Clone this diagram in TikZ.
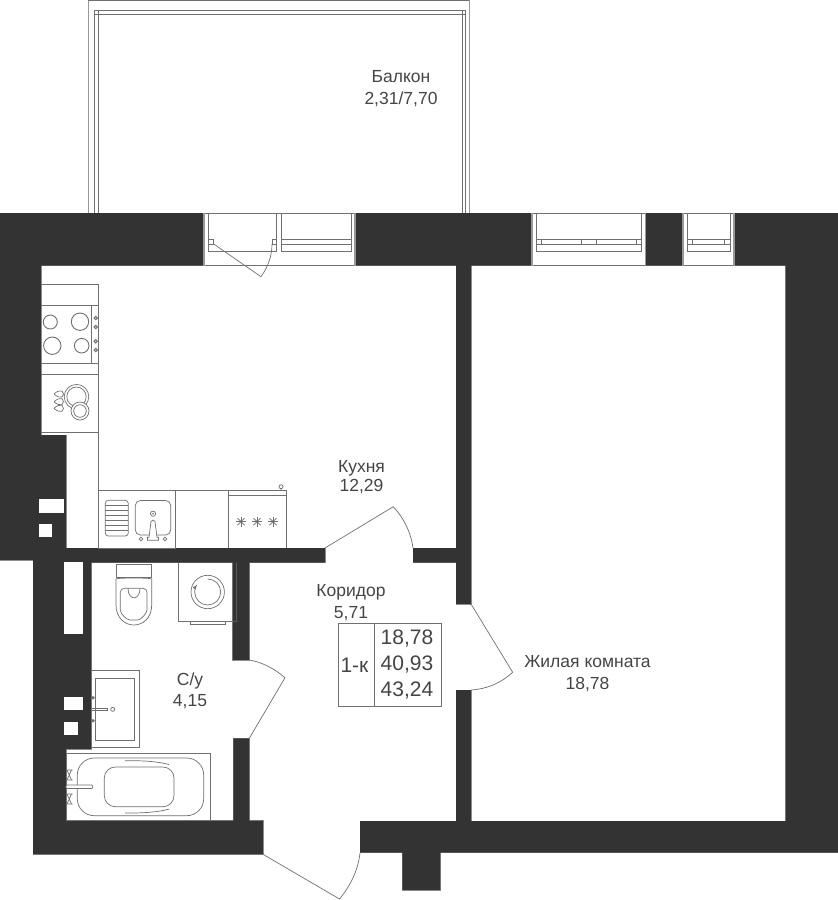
\documentclass[tikz,border=0pt]{standalone}
\usepackage{fontspec}
\setmainfont{Liberation Sans}

\definecolor{wallfill}{HTML}{333333}
\definecolor{wallside}{HTML}{999999}
\definecolor{planline}{HTML}{707070}
\definecolor{plantext}{HTML}{454545}

\tikzset{
    fixture/.style={draw=planline, line width=0.7pt},
    heavy/.style={draw=planline, line width=0.9pt},
    light/.style={draw=wallside, line width=1.1pt},
    duct/.style={fill=white},
    roomtag/.style={anchor=base, text=plantext, font=\fontsize{17.5}{20}\selectfont, inner sep=0pt},
    areatag/.style={anchor=base, text=plantext, font=\fontsize{21}{24}\selectfont, inner sep=0pt}
}

\newcommand{\wallshapes}{
    (0, 213) rectangle (204, 265.5)
    (355, 213) rectangle (532, 265.5)
    (645.5, 213) rectangle (683, 265.5)
    (734, 213) rectangle (838, 265.5)
    (0, 265) rectangle (41, 436)
    (0, 435) rectangle (66, 548.5)
    (0, 548) rectangle (33, 560)
    (33, 548) rectangle (325, 562.5)
    (413, 548) rectangle (456, 562.5)
    (33, 560) rectangle (91.3, 749)
    (33, 748) rectangle (66, 821)
    (33, 820.7) rectangle (263, 854.3)
    (232.5, 562) rectangle (249.3, 660)
    (233.3, 738.3) rectangle (249.3, 821)
    (360, 821) rectangle (838, 852.5)
    (402.3, 852) rectangle (440.3, 890)
    (456, 265) rectangle (471, 604)
    (456, 690) rectangle (471, 821)
    (785.5, 265) rectangle (838, 821)
}

\newcommand{\glazing}[2]{%
    \draw[heavy] (#1, 213) -- (#1, 251) -- (#2, 251) -- (#2, 213);
    \draw[heavy] (#1, 239.5) -- (#2, 239.5) (#1, 244) -- (#2, 244);
}

\newcommand{\opening}[2]{%
    \draw[fixture] (#1, 213) -- (#2, 213) (#1, 265.5) -- (#2, 265.5);
    \draw[light] (#1, 213) -- (#1, 265.5) (#2, 213) -- (#2, 265.5);
}

\begin{document}
\begin{tikzpicture}[x=1pt, y=-1pt]
    \useasboundingbox (0, 0) rectangle (838, 900);
    \fill[white] (0, 0) rectangle (838, 900);

    \draw[light] (88.3, 213) -- (88.3, 0) -- (469.3, 0) -- (469.3, 213);
    \draw[planline, line width=1.4pt] (88.3, 0.5) -- (469.3, 0.5);
    \draw[fixture] (94, 213) -- (94, 10) -- (465.7, 10) -- (465.7, 213);
    \draw[fixture] (98, 213) -- (98, 10) (462, 213) -- (462, 10);
    \draw[fixture] (94, 14.5) -- (465.7, 14.5);

    \draw[wallside, line width=1pt] \wallshapes;
    \fill[wallfill] \wallshapes;
    \foreach \xa/\ya/\xb/\yb in
        {39.3/499.3/63.7/512.5, 39.3/524.3/52/537.3,
         64.3/562/82.7/634, 64.3/696.7/83/709.5, 64.3/721.7/77.5/734.7}{
        \fill[duct] (\xa, \ya) rectangle (\xb, \yb);
    }

    \foreach \xa/\xb in {204/355, 532/645.5, 683/734}{
        \opening{\xa}{\xb}
    }
    \glazing{208.3}{276.7}
    \glazing{281.3}{351}
    \glazing{536.7}{641.5}
    \glazing{687.3}{730}
    \fill[white] (213.5, 238) rectangle (271.5, 246);
    \draw[heavy] (208.3, 239.7) rectangle (213, 244) (272, 239.7) rectangle (276.7, 244);
    \draw[fixture] (213, 243.5) -- (261, 276.7)
        .. controls (268, 267) and (272, 256) .. (272, 244);
    \foreach \xa in {541.3, 581.7, 596, 636, 692, 724.7}{
        \draw[heavy] (\xa, 239.5) -- (\xa, 244);
    }

    \draw[fixture] (325, 548) -- (393.3, 506.7)
        .. controls (403, 517) and (411, 532) .. (413, 548);
    \draw[fixture] (471, 604) -- (512.7, 672.3)
        .. controls (501, 683) and (487, 689) .. (471, 690);
    \draw[fixture] (249.3, 660) .. controls (262, 662) and (275, 669) .. (285, 677.7)
        -- (249.3, 738.3);
    \draw[fixture] (263, 854.3) -- (339.5, 899)
        .. controls (351, 885) and (358, 870) .. (360, 853);

    \draw[fixture] (41, 284.5) -- (98.7, 284.5) -- (98.7, 548);
    \foreach \yy in {305.7, 363.3, 374, 432.3}{
        \draw[fixture] (41, \yy) -- (98.7, \yy);
    }
    \draw[fixture] (91.3, 305.7) -- (91.3, 363.3);
    \foreach \xx/\yy/\rr in {50.3/322/7, 80/321.7/8.7, 52.3/345.7/8.7, 81.7/345.7/7.3}{
        \draw[heavy] (\xx, \yy) circle (\rr pt);
    }
    \foreach \yy in {318, 327, 341.3, 350}{
        \draw[heavy, fill=planline!40] (95.7, \yy) circle (1.8pt);
    }

    \draw[fixture] (76.5, 396.7) circle (12.3pt) (76.5, 396.7) circle (9.7pt);
    \fill[white] (80, 411) circle (9pt);
    \draw[fixture] (80, 411) circle (9pt) (80, 411) circle (6.3pt);
    \foreach \yy in {394, 401.7, 408.3}{
        \draw[fixture] (54, \yy) .. controls (57, \yy - 3) and (60, \yy - 3.5) .. (62, \yy - 3)
            .. controls (64, \yy - 1) and (64, \yy + 1) .. (62, \yy + 3)
            .. controls (60, \yy + 3.5) and (57, \yy + 3) .. (54, \yy);
    }

    \draw[fixture] (98.7, 490.3) rectangle (175.7, 548);
    \draw[fixture] (175.7, 490.3) -- (286.7, 490.3) -- (286.7, 548);
    \draw[fixture] (228.7, 490.3) -- (228.7, 548);
    \draw[fixture] (228.7, 495.3) -- (286.7, 495.3);
    \draw[fixture] (281, 486.7) circle (2pt) (281, 488.7) -- (281, 490.3);
    \foreach \xx in {241, 257, 273}{
        \foreach \aa in {0, 45, 90, 135}{
            \draw[fixture] (\xx, 521.7) ++(\aa:5) -- ++(\aa + 180:10);
        }
        \fill[planline] (\xx, 521.7) circle (1.5pt);
    }
    \draw[fixture, rounded corners=3pt] (105.3, 500.3) rectangle (128.3, 536);
    \foreach \yy in {505, 510, 515, 520, 525, 530}{
        \draw[fixture] (105.3, \yy) -- (128.3, \yy);
    }
    \draw[fixture, rounded corners=5pt] (135.3, 500.5) rectangle (170.7, 535);
    \draw[fixture] (153, 513.7) circle (2.6pt);
    \fill[planline] (153, 513.7) circle (0.9pt);
    \draw[fixture, fill=white] (147.5, 540.3) -- (147.5, 537.3) -- (149, 537.3) -- (151, 521.5)
        .. controls (152, 519.5) and (154, 519.5) .. (155, 521.5)
        -- (157, 537.3) -- (158.5, 537.3) -- (158.5, 540.3) -- cycle;
    \draw[fixture] (141, 539) circle (1.8pt) (165, 539) circle (1.8pt);

    \draw[fixture] (116, 564) rectangle (151.7, 577.7);
    \draw[fixture] (116, 579) .. controls (116, 577.7) and (151.7, 577.7) .. (151.7, 579)
        -- (151.7, 605) .. controls (151.7, 618) and (143, 625) .. (133.8, 625)
        .. controls (125, 625) and (116, 618) .. (116, 605) -- cycle;
    \draw[fixture, rounded corners=4pt] (120.3, 588.3) -- (147, 588.3) -- (147, 606)
        .. controls (147, 614) and (140, 620) .. (133.8, 620)
        .. controls (127, 620) and (120.3, 614) .. (120.3, 606) -- cycle;
    \draw[fixture] (128, 588.3) .. controls (128, 601) and (140, 601) .. (140, 588.3);

    \draw[fixture] (178.3, 562.5) -- (178.3, 621) -- (232.5, 621);
    \draw[wallside!40!wallfill, line width=0.7pt] (232.5, 621) -- (236.7, 621) -- (236.7, 562.5);
    \draw[fixture] (190.3, 621) -- (190.3, 624.3) -- (225.7, 624.3) -- (225.7, 621);
    \draw[fixture] (207.7, 592) circle (16.7pt);
    \draw[fixture, -latex] (207.7, 579) arc (90:-215:13pt);

    \draw[fixture] (91.3, 670.3) -- (139.3, 670.3) -- (139.3, 747.7) -- (91.3, 747.7);
    \draw[fixture] (95, 678) rectangle (134, 740.3);
    \draw[fixture] (91.3, 708) rectangle (107, 710.5);
    \draw[fixture] (112.7, 709.3) circle (2pt);
    \fill[planline] (93, 697.7) circle (1.8pt) (93, 720.7) circle (1.8pt);

    \draw[fixture] (66, 753) -- (210.7, 753) -- (210.7, 820.7);
    \draw[fixture] (66, 753) -- (66, 820.7);
    \draw[fixture, rounded corners=17pt] (77.3, 758) rectangle (203.7, 815.7);
    \draw[fixture, rounded corners=11pt] (104.3, 767) rectangle (174, 806.7);
    \draw[fixture] (125, 760.7) .. controls (140, 760.5) and (156, 761) .. (169, 764.5);
    \draw[fixture] (125, 813) .. controls (140, 813.2) and (156, 812.5) .. (169, 809.2);
    \draw[fixture, fill=white, rounded corners=1pt] (66, 785) rectangle (92.7, 788.4);
    \foreach \yy in {775, 799}{
        \draw[fixture] (66, \yy - 5) -- (72.5, \yy - 5) (66, \yy + 5) -- (72.5, \yy + 5)
            (67, \yy - 5) -- (71.5, \yy + 5) (71.5, \yy - 5) -- (67, \yy + 5);
    }

    \draw[fixture] (338.7, 623.3) rectangle (441.7, 706.3);
    \draw[fixture] (374.3, 623.3) -- (374.3, 706.3);

    \node[roomtag] (balcony) at (401, 82) {Балкон};
    \node[roomtag] (balconyarea) at (401, 104) {2,31/7,70};
    \node[roomtag] (kitchen) at (361.5, 472) {Кухня};
    \node[roomtag] (kitchenarea) at (361.5, 491) {12,29};
    \node[roomtag] (hall) at (351, 596.7) {Коридор};
    \node[roomtag] (hallarea) at (351, 618.3) {5,71};
    \node[roomtag] (bath) at (190, 685.7) {С/у};
    \node[roomtag] (batharea) at (190, 706.7) {4,15};
    \node[roomtag] (living) at (587.5, 667) {Жилая комната};
    \node[roomtag] (livingarea) at (587.5, 689) {18,78};
    \node[areatag] (flattype) at (354.5, 672.7) {1-к};
    \foreach \i/\yy/\val in {1/644/{18,78}, 2/670.3/{40,93}, 3/696/{43,24}}{
        \node[areatag] (area\i) at (407, \yy) {\val};
    }
\end{tikzpicture}
\end{document}
